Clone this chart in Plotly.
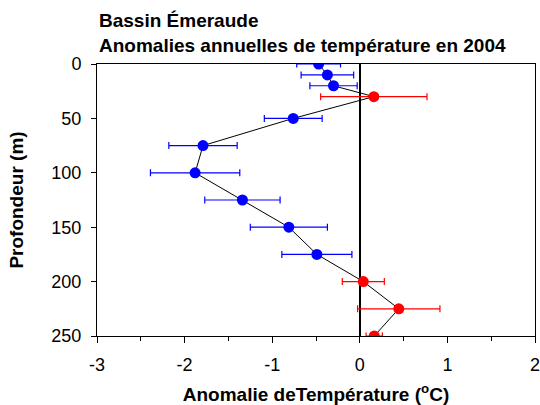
import plotly.graph_objects as go

depth = [0, 10, 20, 30, 50, 75, 100, 125, 150, 175, 200, 225, 250]
anomaly = [-0.47, -0.37, -0.30, 0.16, -0.76, -1.79, -1.88, -1.34, -0.81, -0.49, 0.04, 0.445, 0.165]
err = [0.25, 0.30, 0.27, 0.607, 0.33, 0.39, 0.51, 0.43, 0.44, 0.40, 0.24, 0.47, 0.093]

x_ticks = [-3, -2, -1, 0, 1, 2]
x_labels = ["-3", "-2", "-1", "0", "1", "2"]
y_ticks = [0, 50, 100, 150, 200, 250]

FONT = "Liberation Sans, Arial, sans-serif"

pos = [i for i, a in enumerate(anomaly) if a > 0]
neg = [i for i, a in enumerate(anomaly) if a <= 0]

fig = go.Figure()
fig.add_trace(go.Scatter(x=anomaly, y=depth, mode="lines",
                         line=dict(color="black", width=1), showlegend=False,
                         hoverinfo="skip"))
for idx, col in ((neg, "#0000FF"), (pos, "#FF0000")):
    fig.add_trace(go.Scatter(
        x=[anomaly[i] for i in idx], y=[depth[i] for i in idx], mode="markers",
        marker=dict(color=col, size=11, line=dict(width=0)),
        error_x=dict(type="data", array=[err[i] for i in idx], color=col,
                     thickness=1.2, width=3.5),
        showlegend=False))

fig.update_layout(
    width=540, height=405,
    margin=dict(l=97, r=5, t=64, b=69),
    paper_bgcolor="white", plot_bgcolor="white",
    font=dict(family=FONT, size=18, color="black"),
    xaxis=dict(range=[-3, 2], tickvals=x_ticks, ticktext=x_labels, showgrid=False,
               showline=True, linecolor="black", linewidth=1, mirror=True,
               ticks="outside", ticklen=6, tickcolor="black",
               ticklabeloverflow="allow", ticklabelstandoff=6, automargin=False,
               minor=dict(dtick=0.5, tick0=-3, ticks="outside", ticklen=4, tickcolor="black", showgrid=False),
               zeroline=True, zerolinecolor="black", zerolinewidth=2,
               title=dict(text="<b>Anomalie deTempérature (<sup>o</sup>C)</b>",
                          font=dict(size=19), standoff=14)),
    yaxis=dict(range=[250, 0], tickvals=y_ticks, showgrid=False,
               showline=True, linecolor="black", linewidth=1, mirror=True,
               ticks="outside", ticklen=5, tickcolor="black",
               ticklabelstandoff=6, automargin=False,
               zeroline=False,
               title=dict(text="<b>Profondeur (m)</b>", font=dict(size=19), standoff=22)),
    annotations=[dict(text="<b>Bassin Émeraude<br>Anomalies annuelles de température en 2004</b>",
                      xref="paper", yref="paper", x=0, y=1, xanchor="left", yanchor="bottom",
                      yshift=6, showarrow=False, align="left",
                      font=dict(family=FONT, size=19, color="black"))],
)

fig.write_html("out.html")
